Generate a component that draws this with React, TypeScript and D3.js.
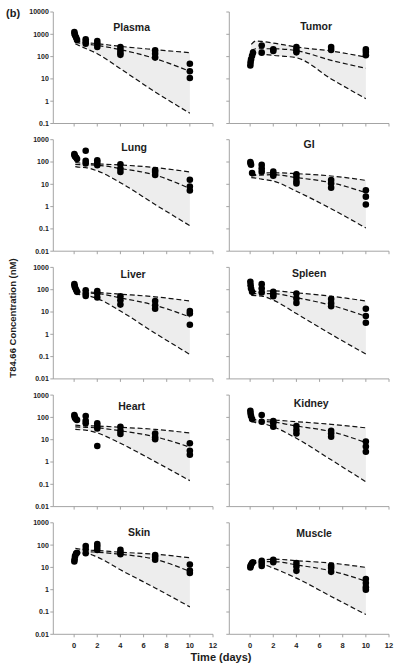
import React from 'react';
import * as d3 from 'd3';

// ---------- data ----------
const panelNames = ['Plasma', 'Tumor', 'Lung', 'GI', 'Liver', 'Spleen', 'Heart', 'Kidney', 'Skin', 'Muscle'];
const xTickValues = [0, 2, 4, 6, 8, 10, 12];
const yTicksTop = [0.1, 1, 10, 100, 1000, 10000];
const yTickLabelsTop = ['0.1', '1', '10', '100', '1000', '10000'];
const yTicksOther = [0.01, 0.1, 1, 10, 100, 1000];
const yTickLabelsOther = ['0.01', '0.1', '1', '10', '100', '1000'];

const modelTimes = [0.1, 0.5, 1, 2, 4, 7, 10];

const plasmaUpper = [520, 470, 430, 380, 288, 205, 150];
const plasmaMedian = [430, 400, 370, 316, 205, 81, 22];
const plasmaLower = [380, 300, 230, 135, 28.5, 2.6, 0.29];
const tumorUpper = [350, 500, 480, 405, 270, 178, 95];
const tumorMedian = [190, 225, 225, 225, 185, 68, 30];
const tumorLower = [113, 135, 130, 113, 89, 10, 1.3];
const lungUpper = [95, 90, 86, 82, 74, 56, 36];
const lungMedian = [79, 77, 75, 72, 51, 26, 6.5];
const lungLower = [62, 58, 56, 40, 11.8, 1.24, 0.14];
const giUpper = [24, 28, 31, 33, 30, 23.6, 15];
const giMedian = [23.6, 25, 26, 27, 20, 11.8, 4.2];
const giLower = [20, 19, 17, 14, 4.9, 0.8, 0.11];
const liverUpper = [88, 84, 80, 75, 63, 48, 31];
const liverMedian = [80, 76, 72, 67, 43, 20, 6];
const liverLower = [67, 60, 56, 40, 11, 1.12, 0.125];
const spleenUpper = [80, 84, 86, 88, 72, 51, 31];
const spleenMedian = [67, 67, 67, 67, 44, 20, 6.4];
const spleenLower = [56, 54, 52, 34, 8.5, 1.0, 0.13];
const heartUpper = [45, 43, 42, 41, 36, 29, 20];
const heartMedian = [38, 37, 36, 34, 25, 13.6, 4.6];
const heartLower = [29, 28, 27, 20, 6.9, 1.04, 0.146];
const kidneyUpper = [82, 80, 78, 76, 64, 49, 34];
const kidneyMedian = [71, 68, 66, 62, 41, 23, 7.4];
const kidneyLower = [64, 58, 54, 38, 11.5, 1.25, 0.13];
const skinUpper = [72, 66, 61, 57, 48, 39, 27];
const skinMedian = [43, 47, 51, 48, 39, 23, 6.6];
const skinLower = [43, 43, 43, 29, 7.8, 1.2, 0.17];
const muscleUpper = [18, 20, 21, 23.5, 20, 15.6, 10];
const muscleMedian = [16, 17, 18, 18.3, 13, 7, 2.4];
const muscleLower = [15.6, 15, 14, 9.3, 3.3, 0.5, 0.077];

const plasmaObsT = [0.02, 0.04, 0.08, 0.17, 0.25, 1, 1, 1, 2, 2, 2, 4, 4, 4, 4, 7, 7, 7, 10, 10, 10];
const plasmaObsV = [1260, 1050, 900, 720, 560, 600, 460, 380, 500, 380, 270, 270, 200, 150, 120, 190, 135, 90, 48, 22, 11];
const tumorObsT = [0.02, 0.04, 0.08, 0.17, 0.25, 1, 1, 2, 2, 4, 4, 4, 7, 7, 10, 10, 10];
const tumorObsV = [40, 55, 75, 110, 150, 316, 150, 210, 180, 270, 200, 155, 270, 200, 210, 160, 115];
const lungObsT = [0.02, 0.04, 0.08, 0.17, 0.25, 1, 1, 1, 2, 2, 2, 4, 4, 4, 7, 7, 7, 10, 10, 10];
const lungObsV = [225, 200, 175, 160, 135, 320, 112, 86, 120, 95, 72, 79, 51, 36, 44, 36, 26, 16, 8, 5.3];
const giObsT = [0.02, 0.04, 0.08, 0.17, 1, 1, 1, 2, 2, 2, 4, 4, 4, 4, 7, 7, 7, 10, 10, 10];
const giObsV = [100, 86, 75, 32, 74, 51, 37, 37, 28, 24, 28, 20, 14, 11, 15.6, 11, 7, 5.4, 2.8, 1.24];
const liverObsT = [0.02, 0.04, 0.08, 0.17, 0.25, 1, 1, 1, 2, 2, 2, 4, 4, 4, 7, 7, 7, 10, 10, 10];
const liverObsV = [177, 150, 125, 100, 80, 95, 67, 52, 88, 67, 45, 51, 34, 21.5, 31, 20, 14, 11, 8.5, 2.7];
const spleenObsT = [0.02, 0.04, 0.08, 0.17, 1, 1, 1, 2, 2, 2, 4, 4, 4, 7, 7, 7, 10, 10, 10];
const spleenObsV = [225, 160, 113, 80, 177, 113, 75, 80, 61, 51, 67, 40, 25.6, 38, 25, 18, 14, 6.6, 3.3];
const heartObsT = [0.02, 0.04, 0.08, 0.17, 0.25, 1, 1, 1, 2, 2, 2, 2, 4, 4, 4, 7, 7, 7, 10, 10, 10];
const heartObsV = [127, 110, 95, 82, 76, 115, 71, 54, 54, 41, 32, 5.2, 38, 25, 18, 19, 13, 10.4, 6.9, 3.2, 2.1];
const kidneyObsT = [0.02, 0.04, 0.08, 0.17, 1, 1, 2, 2, 2, 4, 4, 4, 7, 7, 7, 10, 10, 10];
const kidneyObsV = [198, 151, 115, 85, 127, 64, 68, 54, 38, 41, 27, 19, 25, 19, 13.6, 8.2, 4.9, 2.9];
const skinObsT = [0.02, 0.04, 0.08, 0.17, 0.25, 1, 1, 1, 2, 2, 2, 4, 4, 4, 7, 7, 7, 10, 10, 10];
const skinObsV = [18.5, 23, 32, 42, 45, 91, 65, 43, 112, 85, 61, 61, 48, 39, 36, 29, 22, 13.4, 7.3, 5.6];
const muscleObsT = [0.02, 0.04, 0.08, 0.17, 0.25, 1, 1, 1, 2, 2, 4, 4, 4, 7, 7, 7, 10, 10, 10, 10];
const muscleObsV = [10, 11.5, 13, 15.6, 17, 20, 15.6, 11.7, 22, 17, 15.6, 11, 7, 12, 9.3, 6.3, 3.0, 2.0, 1.3, 1.0];

const panels = [
  { name: panelNames[0], up: plasmaUpper, med: plasmaMedian, lo: plasmaLower, t: plasmaObsT, v: plasmaObsV },
  { name: panelNames[1], up: tumorUpper, med: tumorMedian, lo: tumorLower, t: tumorObsT, v: tumorObsV },
  { name: panelNames[2], up: lungUpper, med: lungMedian, lo: lungLower, t: lungObsT, v: lungObsV },
  { name: panelNames[3], up: giUpper, med: giMedian, lo: giLower, t: giObsT, v: giObsV },
  { name: panelNames[4], up: liverUpper, med: liverMedian, lo: liverLower, t: liverObsT, v: liverObsV },
  { name: panelNames[5], up: spleenUpper, med: spleenMedian, lo: spleenLower, t: spleenObsT, v: spleenObsV },
  { name: panelNames[6], up: heartUpper, med: heartMedian, lo: heartLower, t: heartObsT, v: heartObsV },
  { name: panelNames[7], up: kidneyUpper, med: kidneyMedian, lo: kidneyLower, t: kidneyObsT, v: kidneyObsV },
  { name: panelNames[8], up: skinUpper, med: skinMedian, lo: skinLower, t: skinObsT, v: skinObsV },
  { name: panelNames[9], up: muscleUpper, med: muscleMedian, lo: muscleLower, t: muscleObsT, v: muscleObsV },
];

// ---------- layout ----------
const W = 400;
const H = 668;
const colX = [53.3, 229.3];
const plotW = 159.7;
const rowTop0 = 12;
const rowStep = 127.7;
const plotH = 111.5;
const titleOffsets: [number, number][] = [
  [-1.5, 15], [7, 14], [1, 7.5], [0, 4.5], [0, 7], [0, 6], [-1.5, 11], [2, 8], [6, 10], [5, 10.5],
];
const FONT = "'Liberation Sans', Arial, Helvetica, sans-serif";
const AXIS = '#9a9a9a';
const TXT = '#1c1c1c';

function Panel({ idx }: { idx: number }) {
  const p = panels[idx];
  const col = idx % 2;
  const row = Math.floor(idx / 2);
  const left = colX[col];
  const top = rowTop0 + row * rowStep;
  const x = d3.scaleLinear().domain([-1.8, 12]).range([left, left + plotW]);
  const yDom = row === 0 ? [0.1, 10000] : [0.01, 1000];
  const y = d3.scaleLog().domain(yDom).range([top + plotH, top]);
  const yTicks = row === 0 ? yTicksTop : yTicksOther;
  const yLabels = row === 0 ? yTickLabelsTop : yTickLabelsOther;
  const bottom = top + plotH;

  const line = d3
    .line<number>()
    .x((_, i) => x(modelTimes[i]))
    .y((d) => y(d))
    .curve(d3.curveMonotoneX);
  const area = d3
    .area<number>()
    .x((_, i) => x(modelTimes[i]))
    .y0((_, i) => y(p.lo[i]))
    .y1((d) => y(d))
    .curve(d3.curveMonotoneX);

  const [tdx, tdy] = titleOffsets[idx];

  return (
    <g>
      {/* shaded band */}
      <path d={area(p.up) || ''} fill="#ededed" stroke="none" />
      {/* axes */}
      <line x1={left} x2={left} y1={top} y2={bottom} stroke={AXIS} strokeWidth={0.9} />
      <line x1={left} x2={x(12)} y1={bottom} y2={bottom} stroke={AXIS} strokeWidth={0.9} />
      {yTicks.map((t, i) => (
        <g key={'y' + i}>
          <line x1={left - 3} x2={left} y1={y(t)} y2={y(t)} stroke={AXIS} strokeWidth={0.9} />
          {col === 0 && (
            <text
              x={left - 4.5}
              y={y(t)}
              dy="0.35em"
              textAnchor="end"
              fontSize={7}
              fontWeight="bold"
              fontFamily={FONT}
              fill={TXT}
            >
              {yLabels[i]}
            </text>
          )}
        </g>
      ))}
      {xTickValues.map((t) => (
        <g key={'x' + t}>
          <line x1={x(t)} x2={x(t)} y1={bottom} y2={bottom + 3} stroke={AXIS} strokeWidth={0.9} />
          {row === 4 && (
            <text
              x={x(t)}
              y={bottom + 13.5}
              textAnchor="middle"
              fontSize={7.5}
              fontWeight="bold"
              fontFamily={FONT}
              fill={TXT}
            >
              {t}
            </text>
          )}
        </g>
      ))}
      {/* model lines */}
      {[p.up, p.med, p.lo].map((arr, i) => (
        <path key={'l' + i} d={line(arr) || ''} fill="none" stroke="#111" strokeWidth={1.2} strokeDasharray="5,2.8" />
      ))}
      {/* observations */}
      {p.t.map((t, i) => (
        <circle key={'c' + i} cx={x(t)} cy={y(p.v[i])} r={3.3} fill="#000" />
      ))}
      {/* title */}
      <text
        x={left + plotW / 2 + tdx}
        y={top + tdy}
        dy="0.35em"
        textAnchor="middle"
        fontSize={10.5}
        fontWeight="bold"
        fontFamily={FONT}
        fill={TXT}
      >
        {p.name}
      </text>
    </g>
  );
}

export default function App() {
  return (
    <svg
      width={W}
      height={H}
      viewBox={`0 0 ${W} ${H}`}
      style={{ position: 'absolute', left: 0, top: 0, background: '#fff' }}
    >
      <rect x={0} y={0} width={W} height={H} fill="#fff" />
      {panels.map((_, i) => (
        <Panel key={i} idx={i} />
      ))}
      <text x={6} y={16.5} fontSize={11} fontWeight="bold" fontFamily={FONT} fill={TXT}>
        (b)
      </text>
      <text
        transform="translate(12.5,318) rotate(-90)"
        textAnchor="middle"
        dy="0.35em"
        fontSize={9.5}
        fontWeight="bold"
        fontFamily={FONT}
        fill={TXT}
      >
        T84.66 Concentration (nM)
      </text>
      <text x={221} y={657} dy="0.35em" textAnchor="middle" fontSize={11} fontWeight="bold" fontFamily={FONT} fill={TXT}>
        Time (days)
      </text>
    </svg>
  );
}
